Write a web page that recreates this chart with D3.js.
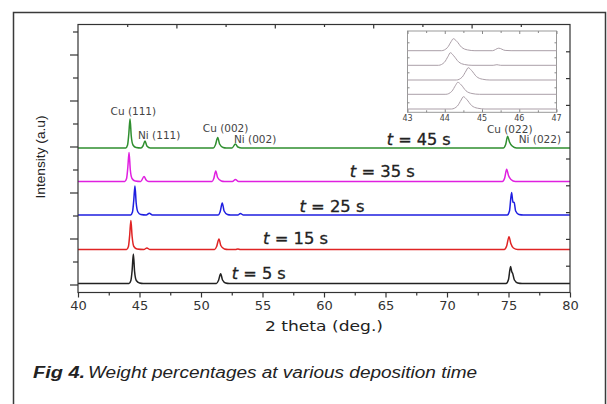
<!DOCTYPE html>
<html>
<head>
<meta charset="utf-8">
<script src="https://cdn.jsdelivr.net/npm/d3@7"></script>
<style>
  body { margin: 0; background: #fff; }
  svg { display: block; }
</style>
</head>
<body>
<div id="chart"></div>
<script>
// deposition times, bottom to top
const times = [5, 15, 25, 35, 45];
const colors = ["#222222", "#e02424", "#1f1fe0", "#e020e0", "#2f8f2f"];
// vertical offset of each trace (a.u.)
const offsets = [9, 43, 77.5, 111, 144.5];

// XRD patterns: [2theta, intensity above baseline]
const trace5 = [[40,0],[44.15,0],[44.3,3],[44.4,13],[44.5,29.5],[44.6,12],[44.74,3],[45.0,0.5],[45.3,0],
  [51.25,0],[51.42,3],[51.6,9.7],[51.75,3.5],[52.0,0.5],[52.3,0],
  [74.8,0],[75.0,4],[75.17,17],[75.26,12],[75.34,10],[75.48,3.5],[75.75,0.5],[76.1,0],[80,0]];
const trace15 = [[40,0],[43.95,0],[44.1,3],[44.2,14],[44.3,29],[44.4,13],[44.54,3],[44.8,0.5],[45.35,0],
  [45.6,1.5],[45.85,0],[51.1,0],[51.27,3],[51.46,10.5],[51.61,4],[51.9,0.5],[52.2,0],
  [52.8,0],[53.0,0.6],[53.2,0],[74.65,0],[74.85,3.5],[75.04,12.8],[75.19,6],[75.4,1.5],[75.75,0],[80,0]];
const trace25 = [[40,0],[44.28,0],[44.43,3],[44.53,14],[44.63,29],[44.73,12],[44.87,3],[45.1,0.5],[45.55,0],
  [45.8,1.8],[46.05,0],[51.4,0],[51.55,3],[51.73,12],[51.88,4],[52.15,0.5],[52.4,0],
  [53.0,0],[53.2,1.5],[53.45,0],[74.9,0],[75.08,4],[75.25,22.6],[75.36,13],[75.46,12.6],[75.58,4],[75.85,0.5],[76.2,0],[80,0]];
const trace35 = [[40,0],[43.8,0],[43.95,3],[44.05,14],[44.15,29],[44.25,12],[44.39,3],[44.65,0.5],[45.1,0],
  [45.37,5],[45.54,1.5],[45.75,0],[50.9,0],[51.04,3],[51.2,10.5],[51.35,4],[51.65,0.5],[51.9,0],
  [52.55,0],[52.8,2],[53.05,0],[74.5,0],[74.69,3.5],[74.85,12.2],[75.0,6],[75.2,2],[75.55,0],[80,0]];
const trace45 = [[40,0],[43.88,0],[44.03,3],[44.13,14],[44.23,29],[44.33,12],[44.47,3],[44.72,0.5],[45.12,0],
  [45.28,2],[45.45,7],[45.6,2],[45.88,0],[51.0,0],[51.17,3],[51.36,10.5],[51.51,4],[51.8,0.5],[52.05,0],
  [52.52,0],[52.8,4],[53.0,1],[53.3,0],[74.57,0],[74.77,3.5],[74.93,11.7],[75.08,6],[75.3,2],[75.65,0],[80,0]];
const traces = [trace5, trace15, trace25, trace35, trace45];

// inset: zoom on the (111) region
const insetOffsets = [3.3, 18, 32.3, 47, 61.6];
const inset5 = [[43,0],[44.18,0],[44.34,3],[44.44,9],[44.5,12.3],[44.59,9.5],[44.72,3.5],[44.88,0.8],[45.08,0],[47,0]];
const inset15 = [[43,0],[44.03,0],[44.19,3],[44.29,9],[44.35,12],[44.44,9.5],[44.57,3.5],[44.73,0.8],[44.93,0],[47,0]];
const inset25 = [[43,0],[44.31,0],[44.47,3],[44.57,9],[44.63,12.3],[44.72,9.5],[44.85,3.5],[45.01,0.8],[45.21,0],[47,0]];
const inset35 = [[43,0],[43.83,0],[43.99,3],[44.09,9],[44.15,12.6],[44.24,9.5],[44.37,3.5],[44.53,0.8],[44.73,0],
  [45.3,0],[45.4,0.6],[45.5,0],[47,0]];
const inset45 = [[43,0],[43.91,0],[44.07,3],[44.17,9],[44.23,12],[44.32,9.5],[44.45,3.5],[44.61,0.8],[44.81,0],
  [45.28,0],[45.45,2.5],[45.62,0.3],[45.78,0],[47,0]];
const insetTraces = [inset5, inset15, inset25, inset35, inset45];

// axis ticks
const xMajor = [40, 45, 50, 55, 60, 65, 70, 75, 80];
const xMinor = [42.5, 47.5, 52.5, 57.5, 62.5, 67.5, 72.5, 77.5];
const topMajor = [48, 56, 64, 72];
const topMinor = [44, 52, 60, 68, 76];
const leftMajor = [8, 54, 100, 146, 192, 238];
const leftMinor = [31, 77, 123, 169, 215, 261];
const rightTicks = [26.8, 53.6, 80.4, 107.2, 134, 160.8, 187.6, 214.4, 241.2];
const insetMajor = [43, 44, 45, 46, 47];
const insetMinor = [43.5, 44.5, 45.5, 46.5];

// annotations in data units
const peakLabels = [
  { text: "Cu (111)", x: 44.5, y: 177.5 },
  { text: "Ni (111)", x: 46.6, y: 153.5 },
  { text: "Cu (002)", x: 52.0, y: 160.5 },
  { text: "Ni (002)", x: 54.4, y: 149.5 },
  { text: "Cu (022)", x: 75.1, y: 159.5 },
  { text: "Ni (022)", x: 77.55, y: 149.5 },
];
const timeLabelX = [52.5, 55.05, 58.0, 62.1, 65.1];
const timeLabelY = [13.5, 48.5, 80.5, 115.5, 147.5];
const timeLabelW = [54, 65, 65, 65, 64];

const W = 607, H = 404;
const svg = d3.select("#chart").append("svg").attr("width", W).attr("height", H);
svg.append("rect").attr("width", W).attr("height", H).attr("fill", "#fff");

// outer figure frame (open at the bottom)
svg.append("path")
  .attr("d", "M13.5,404V12.5H605.5V404")
  .attr("fill", "none").attr("stroke", "#3a3a3a").attr("stroke-width", 1.5);

const x = d3.scaleLinear().domain([40, 80]).range([78, 570]);
const y = d3.scaleLinear().domain([0, 268]).range([292.5, 24.5]);

const axisColor = "#333";

// traces
const line = d3.line()
  .x((d) => x(d[0]))
  .curve(d3.curveMonotoneX);

traces.forEach((tr, i) => {
  svg.append("path")
    .datum(tr)
    .attr("fill", "none")
    .attr("stroke", colors[i])
    .attr("stroke-width", 1.5)
    .attr("stroke-linejoin", "round")
    .attr("d", line.y((d) => y(d[1] + offsets[i])));
});

// plot frame
svg.append("rect")
  .attr("x", x(40)).attr("y", y(268))
  .attr("width", x(80) - x(40)).attr("height", y(0) - y(268))
  .attr("fill", "none").attr("stroke", axisColor).attr("stroke-width", 1.2);

// bottom axis
const bottomAxis = svg.append("g").attr("transform", `translate(0,${y(0)})`);
bottomAxis.call(d3.axisBottom(x).tickValues(xMajor).tickSize(5).tickPadding(3).tickFormat(d3.format("d")));
bottomAxis.append("g").call(d3.axisBottom(x).tickValues(xMinor).tickSize(3).tickFormat(""));
bottomAxis.selectAll(".domain").remove();
bottomAxis.selectAll("line").attr("stroke", axisColor).attr("stroke-width", 1.2);
bottomAxis.selectAll("text")
  .attr("font-family", "DejaVu Sans").attr("font-size", 13).attr("fill", "#333");

// top axis (inward ticks)
const topAxis = svg.append("g").attr("transform", `translate(0,${y(268)})`);
topAxis.call(d3.axisBottom(x).tickValues(topMajor).tickSize(4).tickFormat(""));
topAxis.append("g").call(d3.axisBottom(x).tickValues(topMinor).tickSize(2.5).tickFormat(""));
topAxis.selectAll(".domain").remove();
topAxis.selectAll("line").attr("stroke", axisColor).attr("stroke-width", 1.2);

// left axis (outward ticks, no labels)
const leftAxis = svg.append("g").attr("transform", `translate(${x(40)},0)`);
leftAxis.call(d3.axisLeft(y).tickValues(leftMajor).tickSize(8).tickFormat(""));
leftAxis.append("g").call(d3.axisLeft(y).tickValues(leftMinor).tickSize(5).tickFormat(""));
leftAxis.selectAll(".domain").remove();
leftAxis.selectAll("line").attr("stroke", axisColor).attr("stroke-width", 1.2);

// right axis (inward ticks)
const rightAxis = svg.append("g").attr("transform", `translate(${x(80)},0)`);
rightAxis.call(d3.axisLeft(y).tickValues(rightTicks).tickSize(4).tickFormat(""));
rightAxis.selectAll(".domain").remove();
rightAxis.selectAll("line").attr("stroke", axisColor).attr("stroke-width", 1.2);

// axis titles
svg.append("text")
  .attr("x", 324).attr("y", 331)
  .attr("text-anchor", "middle")
  .attr("font-family", "DejaVu Sans").attr("font-size", 14).attr("fill", "#222")
  .attr("textLength", 118).attr("lengthAdjust", "spacingAndGlyphs")
  .text("2 theta (deg.)");

svg.append("text")
  .attr("transform", "translate(44.5,157) rotate(-90)")
  .attr("text-anchor", "middle")
  .attr("font-family", "Liberation Sans").attr("font-size", 13).attr("fill", "#222")
  .attr("textLength", 83).attr("lengthAdjust", "spacingAndGlyphs")
  .text("Intensity (a.u)");

// peak labels
svg.selectAll(".peak")
  .data(peakLabels)
  .join("text")
  .attr("class", "peak")
  .attr("x", (d) => x(d.x)).attr("y", (d) => y(d.y))
  .attr("text-anchor", "middle")
  .attr("font-family", "DejaVu Sans").attr("font-size", 10.5).attr("fill", "#444")
  .text((d) => d.text);

// deposition time labels
times.forEach((t, i) => {
  const lbl = svg.append("text")
    .attr("x", x(timeLabelX[i])).attr("y", y(timeLabelY[i]))
    .attr("font-family", "DejaVu Sans").attr("font-size", 16).attr("fill", "#222")
    .attr("stroke", "#222").attr("stroke-width", 0.3)
    .attr("textLength", timeLabelW[i]).attr("lengthAdjust", "spacingAndGlyphs");
  lbl.append("tspan").attr("font-style", "italic").text("t");
  lbl.append("tspan").text(` = ${t} s`);
});

// inset
const ix = d3.scaleLinear().domain([43, 47]).range([407.5, 556.5]);
const iy = d3.scaleLinear().domain([0, 81.3]).range([112.3, 31]);
const inset = svg.append("g");
inset.append("rect")
  .attr("x", ix(43)).attr("y", iy(81.3))
  .attr("width", ix(47) - ix(43)).attr("height", iy(0) - iy(81.3))
  .attr("fill", "#fff").attr("stroke", "#999").attr("stroke-width", 1);

const iline = d3.line().x((d) => ix(d[0])).curve(d3.curveMonotoneX);
insetTraces.forEach((tr, i) => {
  inset.append("path")
    .datum(tr)
    .attr("fill", "none")
    .attr("stroke", "#ab9fa8")
    .attr("stroke-width", 1)
    .attr("d", iline.y((d) => iy(d[1] + insetOffsets[i])));
});

const ib = inset.append("g").attr("transform", `translate(0,${iy(0)})`);
ib.call(d3.axisTop(ix).tickValues(insetMajor).tickSize(3).tickFormat(""));
ib.append("g").call(d3.axisTop(ix).tickValues(insetMinor).tickSize(2).tickFormat(""));
const it = inset.append("g").attr("transform", `translate(0,${iy(81.3)})`);
it.call(d3.axisBottom(ix).tickValues(insetMajor).tickSize(3).tickFormat(""));
it.append("g").call(d3.axisBottom(ix).tickValues(insetMinor).tickSize(2).tickFormat(""));
const il = inset.append("g").attr("transform", `translate(${ix(43)},0)`);
il.call(d3.axisRight(iy).tickValues([10, 25, 40, 55, 70]).tickSize(2).tickFormat(""));
const ir = inset.append("g").attr("transform", `translate(${ix(47)},0)`);
ir.call(d3.axisLeft(iy).tickValues([10, 25, 40, 55, 70]).tickSize(2).tickFormat(""));
inset.selectAll(".domain").remove();
inset.selectAll(".tick line").attr("stroke", "#888");

inset.selectAll(".ilabel")
  .data(insetMajor)
  .join("text")
  .attr("class", "ilabel")
  .attr("x", (d) => ix(d)).attr("y", 120.5)
  .attr("text-anchor", "middle")
  .attr("font-family", "DejaVu Sans").attr("font-size", 8).attr("fill", "#444")
  .text((d) => d);

// caption
svg.append("text")
  .attr("x", 33).attr("y", 378)
  .attr("font-family", "Liberation Sans").attr("font-size", 16)
  .attr("font-style", "italic").attr("font-weight", "bold").attr("fill", "#222")
  .attr("textLength", 52).attr("lengthAdjust", "spacingAndGlyphs")
  .text("Fig 4.");
svg.append("text")
  .attr("x", 88).attr("y", 378)
  .attr("font-family", "Liberation Sans").attr("font-size", 16)
  .attr("font-style", "italic").attr("fill", "#222")
  .attr("textLength", 389).attr("lengthAdjust", "spacingAndGlyphs")
  .text("Weight percentages at various deposition time");
</script>
</body>
</html>
